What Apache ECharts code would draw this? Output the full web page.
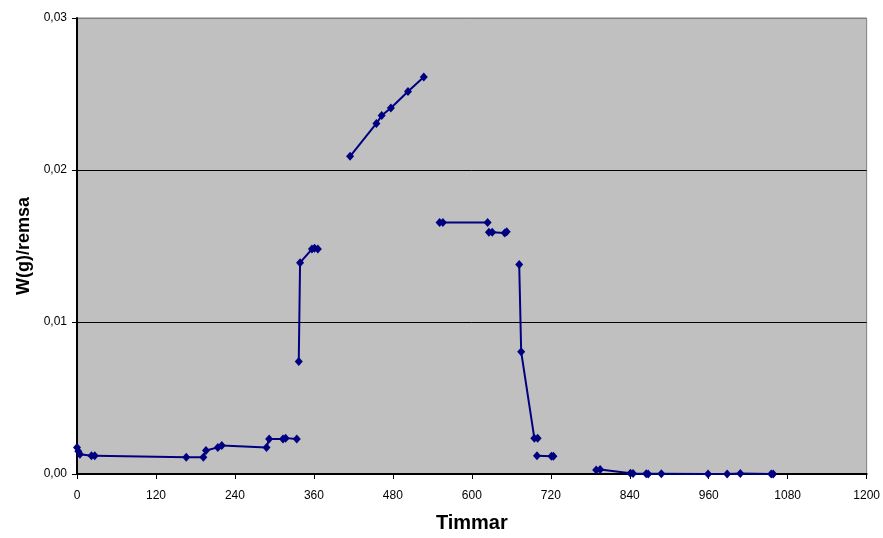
<!DOCTYPE html>
<html>
<head>
<meta charset="utf-8">
<script src="https://cdn.jsdelivr.net/npm/echarts@6/dist/echarts.min.js"></script>
<style>html,body{margin:0;padding:0;background:#fff}#c{width:883px;height:538px}</style>
</head>
<body>
<div id="c"></div>
<script>
// Data: each segment is a run of connected points [hours, W(g)/remsa]
const segment1 = [[0,0.00175],[2,0.0015],[4.5,0.0013],[22,0.0012],[27,0.0012],[166,0.0011],[192,0.0011],[196,0.00155],[214,0.00175],[220,0.00188],[288,0.00175],[292,0.0023],[313,0.0023],[317,0.00236],[334,0.0023]];
const segment2 = [[337,0.0074],[339,0.0139],[357,0.0148],[361,0.01485],[366,0.0148]];
const segment3 = [[415,0.0209],[455,0.02306],[463,0.02358],[477,0.02408],[503,0.02517],[527,0.02612]];
const segment4 = [[551,0.01655],[556,0.01655],[624,0.01655]];
const segment5 = [[626,0.0159],[631,0.0159],[650,0.01585],[653,0.01594]];
const segment6 = [[672,0.01378],[675,0.00804],[695,0.00236],[700,0.00236]];
const segment7 = [[699,0.0012],[721,0.00116],[724,0.00116]];
const segment8 = [[789,0.00026],[795,0.0003],[841,0.00005],[845,0.00004],[865,0.00001],[868,0.0],[888,0.00002],[959,0.0],[988,0.0],[1008,0.00003],[1055,0.0],[1058,0.0]];
const segments = [segment1, segment2, segment3, segment4, segment5, segment6, segment7, segment8];
const xTicks = {min: 0, max: 1200, interval: 120};
const yTicks = {min: 0, max: 0.03, interval: 0.01};

const chart = echarts.init(document.getElementById('c'), null, {renderer: 'canvas'});
const font = 'Liberation Sans, Arial, sans-serif';
chart.setOption({
  animation: false,
  backgroundColor: '#fff',
  grid: {left: 77, right: 13, top: 18, bottom: 62, show: true, backgroundColor: '#c0c0c0', borderColor: '#808080', borderWidth: 1},
  xAxis: {
    type: 'value', min: xTicks.min, max: xTicks.max, interval: xTicks.interval,
    name: 'Timmar', nameLocation: 'middle', nameGap: 39,
    nameTextStyle: {fontFamily: font, fontWeight: 'bold', fontSize: 20, color: '#000'},
    axisLine: {show: true, onZero: false, lineStyle: {color: '#000', width: 2}},
    axisTick: {show: true, length: 5, lineStyle: {color: '#000'}},
    axisLabel: {fontFamily: font, fontSize: 12, color: '#000', margin: 16,
      formatter: v => String(v)},
    splitLine: {show: false}
  },
  yAxis: {
    type: 'value', min: yTicks.min, max: yTicks.max, interval: yTicks.interval,
    name: 'W(g)/remsa', nameLocation: 'middle', nameGap: 44,
    nameTextStyle: {fontFamily: font, fontWeight: 'bold', fontSize: 18, color: '#000'},
    axisLine: {show: true, lineStyle: {color: '#000', width: 2}},
    axisTick: {show: true, length: 5, lineStyle: {color: '#000'}},
    axisLabel: {fontFamily: font, fontSize: 12, color: '#000', margin: 10,
      formatter: v => v.toFixed(2).replace('.', ',')},
    splitLine: {show: true, lineStyle: {color: ['#000', '#000', '#000', '#808080'], width: 1}}
  },
  series: segments.map(s => ({
    type: 'line', data: s, symbol: 'diamond', symbolSize: [8, 9],
    showSymbol: true, clip: false,
    lineStyle: {color: '#000080', width: 2},
    itemStyle: {color: '#000080'}
  }))
});
</script>
</body>
</html>
